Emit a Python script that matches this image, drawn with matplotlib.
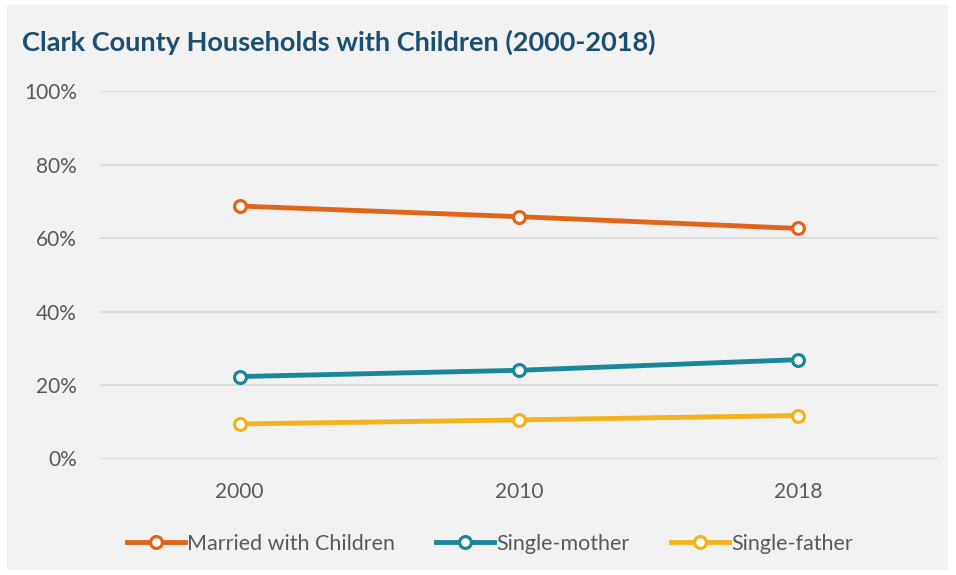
import numpy as np
import matplotlib.pyplot as plt
from matplotlib.patches import Rectangle
from matplotlib.ticker import PercentFormatter

years = ['2000', '2010', '2018']
married = [68.7, 65.8, 62.6]
single_mother = [22.3, 24.0, 26.9]
single_father = [9.4, 10.5, 11.7]

series = [
    ('Married with Children', married, '#E0651A'),
    ('Single-mother', single_mother, '#1A8699'),
    ('Single-father', single_father, '#F2B31E'),
]

plt.rcParams['font.family'] = ['Lato', 'DejaVu Sans']

fig = plt.figure(figsize=(9.56, 5.75), dpi=100, facecolor='white')
fig.patches.append(Rectangle((7 / 956, 5 / 575), 941 / 956, 565 / 575,
                             transform=fig.transFigure, facecolor='#F2F2F2',
                             edgecolor='none', zorder=-5))

ax = fig.add_axes([100 / 956, 116.5 / 575, 838 / 956, 367.5 / 575])
ax.set_facecolor('none')

x = np.arange(len(years))
for name, vals, col in series:
    ax.plot(x, vals, color=col, lw=3.5, marker='o', ms=8.5, mfc='white',
            mec=col, mew=2.3, label=name, zorder=3)

ax.set_xlim(-0.5, 2.5)
ax.set_ylim(0, 100)
ax.set_yticks(np.arange(0, 101, 20))
ax.yaxis.set_major_formatter(PercentFormatter(decimals=0))
ax.set_xticks(x)
ax.set_xticklabels(years)
ax.grid(axis='y', color='#D9D9D9', lw=1.2, zorder=1)
ax.set_axisbelow(True)
for s in ax.spines.values():
    s.set_visible(False)
ax.tick_params(length=0, labelsize=15, colors='#595959')
ax.tick_params(axis='y', pad=16.5)
ax.tick_params(axis='x', pad=17)

fig.text(22 / 956, 1 - 42 / 575, 'Clark County Households with Children (2000-2018)',
         fontsize=19.5, fontweight='bold', color='#1B4F72', va='center', ha='left')

leg = fig.legend(loc='center', bbox_to_anchor=(490 / 956, 1 - 544 / 575), ncol=3,
                 frameon=False, fontsize=15.5, handlelength=2.7, handletextpad=0.1,
                 columnspacing=1.9, labelcolor='#595959')

fig.savefig('out.png', dpi=100, facecolor='white')
